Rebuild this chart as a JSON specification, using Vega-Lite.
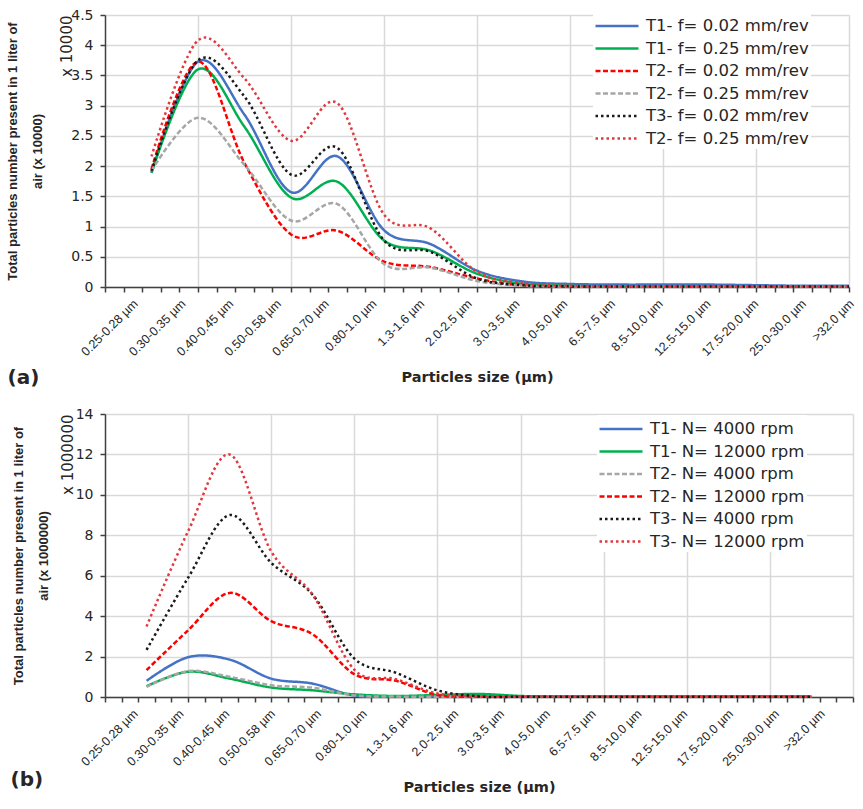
{
  "$schema": "https://vega.github.io/schema/vega-lite/v6.json",
  "background": "white",
  "padding": {"left": 6, "top": 8, "right": 0, "bottom": 0},
  "spacing": 20,
  "resolve": {"scale": {"color": "independent", "strokeDash": "independent"}, "legend": {"color": "independent", "strokeDash": "independent"}},
  "config": {
    "view": {"stroke": null},
    "font": "DejaVu Sans",
    "axis": {"labelColor": "#262626", "titleColor": "#262626", "domainColor": "#404040", "tickColor": "#404040", "gridColor": "#D9D9D9", "titleLimit": 600},
    "legend": {"title": null, "fillColor": "white", "padding": 2, "symbolType": "M-2,0L2,0", "symbolSize": 462, "symbolStrokeWidth": 2.5, "symbolOffset": 10, "labelFontSize": 16.5, "labelOffset": 17, "labelLimit": 300, "labelColor": "#262626", "labelFont": "DejaVu Sans"}
  },
  "datasets": {
    "sizes": [
      {"size": "0.25-0.28 µm"}, {"size": "0.30-0.35 µm"}, {"size": "0.40-0.45 µm"}, {"size": "0.50-0.58 µm"},
      {"size": "0.65-0.70 µm"}, {"size": "0.80-1.0 µm"}, {"size": "1.3-1.6 µm"}, {"size": "2.0-2.5 µm"},
      {"size": "3.0-3.5 µm"}, {"size": "4.0-5.0 µm"}, {"size": "6.5-7.5 µm"}, {"size": "8.5-10.0 µm"},
      {"size": "12.5-15.0 µm"}, {"size": "17.5-20.0 µm"}, {"size": "25.0-30.0 µm"}, {"size": ">32.0 µm"}
    ],
    "a": [
      {"i":1,"s":"T1- f= 0.02 mm/rev","v":1.89},{"i":2,"s":"T1- f= 0.02 mm/rev","v":3.73},{"i":3,"s":"T1- f= 0.02 mm/rev","v":2.85},{"i":4,"s":"T1- f= 0.02 mm/rev","v":1.57},{"i":5,"s":"T1- f= 0.02 mm/rev","v":2.16},{"i":6,"s":"T1- f= 0.02 mm/rev","v":0.94},{"i":7,"s":"T1- f= 0.02 mm/rev","v":0.71},{"i":8,"s":"T1- f= 0.02 mm/rev","v":0.27},{"i":9,"s":"T1- f= 0.02 mm/rev","v":0.09},{"i":10,"s":"T1- f= 0.02 mm/rev","v":0.05},{"i":11,"s":"T1- f= 0.02 mm/rev","v":0.04},{"i":12,"s":"T1- f= 0.02 mm/rev","v":0.04},{"i":13,"s":"T1- f= 0.02 mm/rev","v":0.04},{"i":14,"s":"T1- f= 0.02 mm/rev","v":0.03},{"i":15,"s":"T1- f= 0.02 mm/rev","v":0.02},{"i":16,"s":"T1- f= 0.02 mm/rev","v":0.02},
      {"i":1,"s":"T1- f= 0.25 mm/rev","v":1.89},{"i":2,"s":"T1- f= 0.25 mm/rev","v":3.6},{"i":3,"s":"T1- f= 0.25 mm/rev","v":2.65},{"i":4,"s":"T1- f= 0.25 mm/rev","v":1.48},{"i":5,"s":"T1- f= 0.25 mm/rev","v":1.74},{"i":6,"s":"T1- f= 0.25 mm/rev","v":0.77},{"i":7,"s":"T1- f= 0.25 mm/rev","v":0.6},{"i":8,"s":"T1- f= 0.25 mm/rev","v":0.22},{"i":9,"s":"T1- f= 0.25 mm/rev","v":0.05},{"i":10,"s":"T1- f= 0.25 mm/rev","v":0.02},{"i":11,"s":"T1- f= 0.25 mm/rev","v":0.01},{"i":12,"s":"T1- f= 0.25 mm/rev","v":0.01},{"i":13,"s":"T1- f= 0.25 mm/rev","v":0.01},{"i":14,"s":"T1- f= 0.25 mm/rev","v":0.01},{"i":15,"s":"T1- f= 0.25 mm/rev","v":0.01},{"i":16,"s":"T1- f= 0.25 mm/rev","v":0.01},
      {"i":1,"s":"T2- f= 0.02 mm/rev","v":1.95},{"i":2,"s":"T2- f= 0.02 mm/rev","v":3.73},{"i":3,"s":"T2- f= 0.02 mm/rev","v":2.05},{"i":4,"s":"T2- f= 0.02 mm/rev","v":0.87},{"i":5,"s":"T2- f= 0.02 mm/rev","v":0.93},{"i":6,"s":"T2- f= 0.02 mm/rev","v":0.42},{"i":7,"s":"T2- f= 0.02 mm/rev","v":0.33},{"i":8,"s":"T2- f= 0.02 mm/rev","v":0.14},{"i":9,"s":"T2- f= 0.02 mm/rev","v":0.02},{"i":10,"s":"T2- f= 0.02 mm/rev","v":0.01},{"i":11,"s":"T2- f= 0.02 mm/rev","v":0.01},{"i":12,"s":"T2- f= 0.02 mm/rev","v":0.01},{"i":13,"s":"T2- f= 0.02 mm/rev","v":0.01},{"i":14,"s":"T2- f= 0.02 mm/rev","v":0.01},{"i":15,"s":"T2- f= 0.02 mm/rev","v":0.01},{"i":16,"s":"T2- f= 0.02 mm/rev","v":0.01},
      {"i":1,"s":"T2- f= 0.25 mm/rev","v":1.92},{"i":2,"s":"T2- f= 0.25 mm/rev","v":2.8},{"i":3,"s":"T2- f= 0.25 mm/rev","v":2.02},{"i":4,"s":"T2- f= 0.25 mm/rev","v":1.1},{"i":5,"s":"T2- f= 0.25 mm/rev","v":1.37},{"i":6,"s":"T2- f= 0.25 mm/rev","v":0.38},{"i":7,"s":"T2- f= 0.25 mm/rev","v":0.32},{"i":8,"s":"T2- f= 0.25 mm/rev","v":0.1},{"i":9,"s":"T2- f= 0.25 mm/rev","v":0.02},{"i":10,"s":"T2- f= 0.25 mm/rev","v":0.01},{"i":11,"s":"T2- f= 0.25 mm/rev","v":0.01},{"i":12,"s":"T2- f= 0.25 mm/rev","v":0.01},{"i":13,"s":"T2- f= 0.25 mm/rev","v":0.01},{"i":14,"s":"T2- f= 0.25 mm/rev","v":0.01},{"i":15,"s":"T2- f= 0.25 mm/rev","v":0.01},{"i":16,"s":"T2- f= 0.25 mm/rev","v":0.01},
      {"i":1,"s":"T3- f= 0.02 mm/rev","v":1.92},{"i":2,"s":"T3- f= 0.02 mm/rev","v":3.75},{"i":3,"s":"T3- f= 0.02 mm/rev","v":3.15},{"i":4,"s":"T3- f= 0.02 mm/rev","v":1.86},{"i":5,"s":"T3- f= 0.02 mm/rev","v":2.3},{"i":6,"s":"T3- f= 0.02 mm/rev","v":0.77},{"i":7,"s":"T3- f= 0.02 mm/rev","v":0.58},{"i":8,"s":"T3- f= 0.02 mm/rev","v":0.14},{"i":9,"s":"T3- f= 0.02 mm/rev","v":0.03},{"i":10,"s":"T3- f= 0.02 mm/rev","v":0.01},{"i":11,"s":"T3- f= 0.02 mm/rev","v":0.01},{"i":12,"s":"T3- f= 0.02 mm/rev","v":0.01},{"i":13,"s":"T3- f= 0.02 mm/rev","v":0.01},{"i":14,"s":"T3- f= 0.02 mm/rev","v":0.01},{"i":15,"s":"T3- f= 0.02 mm/rev","v":0.01},{"i":16,"s":"T3- f= 0.02 mm/rev","v":0.01},
      {"i":1,"s":"T2- f= 0.25 mm/rev ","v":2.16},{"i":2,"s":"T2- f= 0.25 mm/rev ","v":4.08},{"i":3,"s":"T2- f= 0.25 mm/rev ","v":3.45},{"i":4,"s":"T2- f= 0.25 mm/rev ","v":2.42},{"i":5,"s":"T2- f= 0.25 mm/rev ","v":3.04},{"i":6,"s":"T2- f= 0.25 mm/rev ","v":1.2},{"i":7,"s":"T2- f= 0.25 mm/rev ","v":0.97},{"i":8,"s":"T2- f= 0.25 mm/rev ","v":0.25},{"i":9,"s":"T2- f= 0.25 mm/rev ","v":0.06},{"i":10,"s":"T2- f= 0.25 mm/rev ","v":0.02},{"i":11,"s":"T2- f= 0.25 mm/rev ","v":0.01},{"i":12,"s":"T2- f= 0.25 mm/rev ","v":0.01},{"i":13,"s":"T2- f= 0.25 mm/rev ","v":0.01},{"i":14,"s":"T2- f= 0.25 mm/rev ","v":0.01},{"i":15,"s":"T2- f= 0.25 mm/rev ","v":0.01},{"i":16,"s":"T2- f= 0.25 mm/rev ","v":0.01}
    ],
    "b": [
      {"i":1,"s":"T1- N= 4000 rpm","v":0.8},{"i":2,"s":"T1- N= 4000 rpm","v":1.97},{"i":3,"s":"T1- N= 4000 rpm","v":1.85},{"i":4,"s":"T1- N= 4000 rpm","v":0.91},{"i":5,"s":"T1- N= 4000 rpm","v":0.66},{"i":6,"s":"T1- N= 4000 rpm","v":0.07},{"i":7,"s":"T1- N= 4000 rpm","v":0.03},{"i":8,"s":"T1- N= 4000 rpm","v":0.02},{"i":9,"s":"T1- N= 4000 rpm","v":0.02},{"i":10,"s":"T1- N= 4000 rpm","v":0.01},{"i":11,"s":"T1- N= 4000 rpm","v":0.01},{"i":12,"s":"T1- N= 4000 rpm","v":0.01},{"i":13,"s":"T1- N= 4000 rpm","v":0.01},{"i":14,"s":"T1- N= 4000 rpm","v":0.01},{"i":15,"s":"T1- N= 4000 rpm","v":0.01},{"i":16,"s":"T1- N= 4000 rpm","v":0.01},{"i":17,"s":"T1- N= 4000 rpm","v":0.01},
      {"i":1,"s":"T1- N= 12000 rpm","v":0.53},{"i":2,"s":"T1- N= 12000 rpm","v":1.25},{"i":3,"s":"T1- N= 12000 rpm","v":0.91},{"i":4,"s":"T1- N= 12000 rpm","v":0.47},{"i":5,"s":"T1- N= 12000 rpm","v":0.33},{"i":6,"s":"T1- N= 12000 rpm","v":0.13},{"i":7,"s":"T1- N= 12000 rpm","v":0.05},{"i":8,"s":"T1- N= 12000 rpm","v":0.1},{"i":9,"s":"T1- N= 12000 rpm","v":0.15},{"i":10,"s":"T1- N= 12000 rpm","v":0.05},{"i":11,"s":"T1- N= 12000 rpm","v":0.01},{"i":12,"s":"T1- N= 12000 rpm","v":0.01},{"i":13,"s":"T1- N= 12000 rpm","v":0.01},{"i":14,"s":"T1- N= 12000 rpm","v":0.01},{"i":15,"s":"T1- N= 12000 rpm","v":0.01},{"i":16,"s":"T1- N= 12000 rpm","v":0.01},{"i":17,"s":"T1- N= 12000 rpm","v":0.01},
      {"i":1,"s":"T2- N= 4000 rpm","v":0.5},{"i":2,"s":"T2- N= 4000 rpm","v":1.28},{"i":3,"s":"T2- N= 4000 rpm","v":1.0},{"i":4,"s":"T2- N= 4000 rpm","v":0.58},{"i":5,"s":"T2- N= 4000 rpm","v":0.46},{"i":6,"s":"T2- N= 4000 rpm","v":0.08},{"i":7,"s":"T2- N= 4000 rpm","v":0.02},{"i":8,"s":"T2- N= 4000 rpm","v":0.01},{"i":9,"s":"T2- N= 4000 rpm","v":0.01},{"i":10,"s":"T2- N= 4000 rpm","v":0.01},{"i":11,"s":"T2- N= 4000 rpm","v":0.01},{"i":12,"s":"T2- N= 4000 rpm","v":0.01},{"i":13,"s":"T2- N= 4000 rpm","v":0.01},{"i":14,"s":"T2- N= 4000 rpm","v":0.01},{"i":15,"s":"T2- N= 4000 rpm","v":0.01},{"i":16,"s":"T2- N= 4000 rpm","v":0.01},{"i":17,"s":"T2- N= 4000 rpm","v":0.01},
      {"i":1,"s":"T2- N= 12000 rpm","v":1.33},{"i":2,"s":"T2- N= 12000 rpm","v":3.3},{"i":3,"s":"T2- N= 12000 rpm","v":5.15},{"i":4,"s":"T2- N= 12000 rpm","v":3.75},{"i":5,"s":"T2- N= 12000 rpm","v":3.1},{"i":6,"s":"T2- N= 12000 rpm","v":1.13},{"i":7,"s":"T2- N= 12000 rpm","v":0.8},{"i":8,"s":"T2- N= 12000 rpm","v":0.1},{"i":9,"s":"T2- N= 12000 rpm","v":0.02},{"i":10,"s":"T2- N= 12000 rpm","v":0.01},{"i":11,"s":"T2- N= 12000 rpm","v":0.01},{"i":12,"s":"T2- N= 12000 rpm","v":0.01},{"i":13,"s":"T2- N= 12000 rpm","v":0.01},{"i":14,"s":"T2- N= 12000 rpm","v":0.01},{"i":15,"s":"T2- N= 12000 rpm","v":0.01},{"i":16,"s":"T2- N= 12000 rpm","v":0.01},{"i":17,"s":"T2- N= 12000 rpm","v":0.01},
      {"i":1,"s":"T3- N= 4000 rpm","v":2.33},{"i":2,"s":"T3- N= 4000 rpm","v":5.9},{"i":3,"s":"T3- N= 4000 rpm","v":9.0},{"i":4,"s":"T3- N= 4000 rpm","v":6.64},{"i":5,"s":"T3- N= 4000 rpm","v":5.05},{"i":6,"s":"T3- N= 4000 rpm","v":1.9},{"i":7,"s":"T3- N= 4000 rpm","v":1.2},{"i":8,"s":"T3- N= 4000 rpm","v":0.33},{"i":9,"s":"T3- N= 4000 rpm","v":0.03},{"i":10,"s":"T3- N= 4000 rpm","v":0.01},{"i":11,"s":"T3- N= 4000 rpm","v":0.01},{"i":12,"s":"T3- N= 4000 rpm","v":0.01},{"i":13,"s":"T3- N= 4000 rpm","v":0.01},{"i":14,"s":"T3- N= 4000 rpm","v":0.01},{"i":15,"s":"T3- N= 4000 rpm","v":0.01},{"i":16,"s":"T3- N= 4000 rpm","v":0.01},{"i":17,"s":"T3- N= 4000 rpm","v":0.01},
      {"i":1,"s":"T3- N= 12000 rpm","v":3.49},{"i":2,"s":"T3- N= 12000 rpm","v":8.2},{"i":3,"s":"T3- N= 12000 rpm","v":12.0},{"i":4,"s":"T3- N= 12000 rpm","v":7.2},{"i":5,"s":"T3- N= 12000 rpm","v":5.05},{"i":6,"s":"T3- N= 12000 rpm","v":1.35},{"i":7,"s":"T3- N= 12000 rpm","v":0.88},{"i":8,"s":"T3- N= 12000 rpm","v":0.17},{"i":9,"s":"T3- N= 12000 rpm","v":0.03},{"i":10,"s":"T3- N= 12000 rpm","v":0.01},{"i":11,"s":"T3- N= 12000 rpm","v":0.01},{"i":12,"s":"T3- N= 12000 rpm","v":0.01},{"i":13,"s":"T3- N= 12000 rpm","v":0.01},{"i":14,"s":"T3- N= 12000 rpm","v":0.01},{"i":15,"s":"T3- N= 12000 rpm","v":0.01},{"i":16,"s":"T3- N= 12000 rpm","v":0.01},{"i":17,"s":"T3- N= 12000 rpm","v":0.01}
    ]
  },
  "vconcat": [
    {
      "width": 744,
      "height": 272,
      "data": {"name": "a"},
      "resolve": {"scale": {"x": "independent"}, "axis": {"x": "independent", "y": "independent"}},
      "layer": [
        {
          "mark": {"type": "line", "interpolate": "cardinal", "strokeWidth": 2.5},
          "encoding": {
            "x": {"field": "i", "type": "quantitative", "scale": {"domain": [0, 16], "nice": false, "zero": false},
                  "axis": {"orient": "bottom", "values": [2, 4, 6, 8, 10, 12, 14, 16], "grid": true, "gridWidth": 1.5, "ticks": false, "labels": false, "domain": false, "title": null}},
            "y": {"field": "v", "type": "quantitative", "scale": {"domain": [0, 4.5], "nice": false},
                  "axis": {"orient": "left", "values": [0, 0.5, 1, 1.5, 2, 2.5, 3, 3.5, 4, 4.5], "format": "~g", "grid": true, "gridWidth": 1.5,
                           "labelFontSize": 14, "labelPadding": 7, "tickSize": 5, "tickWidth": 1.5, "domainWidth": 1.5,
                           "title": ["Total particles number present in 1 liter of", "air (x 10000)"],
                           "titleFont": "Liberation Sans", "titleFontSize": 13, "titleFontWeight": "bold", "titleLineHeight": 25, "titlePadding": 26}},
            "color": {"field": "s", "type": "nominal",
                      "scale": {"domain": ["T1- f= 0.02 mm/rev", "T1- f= 0.25 mm/rev", "T2- f= 0.02 mm/rev", "T2- f= 0.25 mm/rev", "T3- f= 0.02 mm/rev", "T2- f= 0.25 mm/rev "],
                                "range": ["#4472C4", "#00B050", "#FF0000", "#A6A6A6", "#1A1A1A", "#E0383D"]},
                      "legend": {"orient": "none", "legendX": 488, "legendY": -3, "rowPadding": 1.5}},
            "strokeDash": {"field": "s", "type": "nominal",
                      "scale": {"domain": ["T1- f= 0.02 mm/rev", "T1- f= 0.25 mm/rev", "T2- f= 0.02 mm/rev", "T2- f= 0.25 mm/rev", "T3- f= 0.02 mm/rev", "T2- f= 0.25 mm/rev "],
                                "range": [[1, 0], [1, 0], [5, 2.5], [5, 2.5], [2.5, 3], [2.5, 3]]},
                      "legend": {"orient": "none", "legendX": 488, "legendY": -3, "rowPadding": 1.5}}
          }
        },
        {
          "mark": {"type": "point", "opacity": 0},
          "encoding": {
            "x": {"field": "i", "type": "quantitative", "scale": {"domain": [0, 16], "nice": false, "zero": false},
                  "axis": {"orient": "bottom", "values": [0,0.4,0.8,1.2,1.6,2,2.4,2.8,3.2,3.6,4,4.4,4.8,5.2,5.6,6,6.4,6.8,7.2,7.6,8,8.4,8.8,9.2,9.6,10,10.4,10.8,11.2,11.6,12,12.4,12.8,13.2,13.6,14,14.4,14.8,15.2,15.6,16],
                           "grid": false, "ticks": true, "tickSize": 5, "tickWidth": 1.5, "labels": false, "domain": true, "domainWidth": 1.5,
                           "title": "(a)", "titleX": -98, "titleY": 90, "titleAlign": "left", "titleBaseline": "middle", "titleFontSize": 20, "titleFontWeight": "bold"}},
            "y": {"field": "v", "type": "quantitative",
                  "axis": {"orient": "left", "labels": false, "ticks": false, "domain": false, "grid": false,
                           "title": "x 10000", "titleAnchor": "end", "titleFontSize": 15, "titleFontWeight": "normal", "titlePadding": 31}}
          }
        },
        {
          "data": {"name": "sizes"},
          "mark": {"type": "point", "opacity": 0},
          "encoding": {
            "x": {"field": "size", "type": "nominal", "sort": null, "scale": {"type": "point", "padding": 0.293, "align": 0.93},
                  "axis": {"orient": "bottom", "labelAngle": -45, "labelFont": "Liberation Sans", "labelFontSize": 12.5, "labelPadding": 10, "ticks": false, "domain": false, "grid": false,
                           "title": "Particles size (µm)", "titleFontSize": 14.5, "titleFontWeight": "bold", "titlePadding": 12}}
          }
        }
      ]
    },
    {
      "width": 748,
      "height": 283,
      "data": {"name": "b"},
      "resolve": {"scale": {"x": "independent"}, "axis": {"x": "independent", "y": "independent"}},
      "layer": [
        {
          "mark": {"type": "line", "interpolate": "cardinal", "strokeWidth": 2.5},
          "encoding": {
            "x": {"field": "i", "type": "quantitative", "scale": {"domain": [0, 18], "nice": false, "zero": false},
                  "axis": {"orient": "bottom", "values": [2, 4, 6, 8, 10, 12, 14, 16, 18], "grid": true, "gridWidth": 1.5, "ticks": false, "labels": false, "domain": false, "title": null}},
            "y": {"field": "v", "type": "quantitative", "scale": {"domain": [0, 14], "nice": false},
                  "axis": {"orient": "left", "values": [0, 2, 4, 6, 8, 10, 12, 14], "format": "~g", "grid": true, "gridWidth": 1.5,
                           "labelFontSize": 14, "labelPadding": 7, "tickSize": 5, "tickWidth": 1.5, "domainWidth": 1.5,
                           "title": ["Total particles number present in 1 liter of", "air (x 1000000)"],
                           "titleFont": "Liberation Sans", "titleFontSize": 13, "titleFontWeight": "bold", "titleLineHeight": 25, "titlePadding": 25}},
            "color": {"field": "s", "type": "nominal",
                      "scale": {"domain": ["T1- N= 4000 rpm", "T1- N= 12000 rpm", "T2- N= 4000 rpm", "T2- N= 12000 rpm", "T3- N= 4000 rpm", "T3- N= 12000 rpm"],
                                "range": ["#4472C4", "#00B050", "#A6A6A6", "#FF0000", "#1A1A1A", "#E0383D"]},
                      "legend": {"orient": "none", "legendX": 492, "legendY": 1, "rowPadding": 1.5}},
            "strokeDash": {"field": "s", "type": "nominal",
                      "scale": {"domain": ["T1- N= 4000 rpm", "T1- N= 12000 rpm", "T2- N= 4000 rpm", "T2- N= 12000 rpm", "T3- N= 4000 rpm", "T3- N= 12000 rpm"],
                                "range": [[1, 0], [1, 0], [5, 2.5], [5, 2.5], [2.5, 3], [2.5, 3]]},
                      "legend": {"orient": "none", "legendX": 492, "legendY": 1, "rowPadding": 1.5}}
          }
        },
        {
          "mark": {"type": "point", "opacity": 0},
          "encoding": {
            "x": {"field": "i", "type": "quantitative", "scale": {"domain": [0, 18], "nice": false, "zero": false},
                  "axis": {"orient": "bottom", "values": [0,0.4,0.8,1.2,1.6,2,2.4,2.8,3.2,3.6,4,4.4,4.8,5.2,5.6,6,6.4,6.8,7.2,7.6,8,8.4,8.8,9.2,9.6,10,10.4,10.8,11.2,11.6,12,12.4,12.8,13.2,13.6,14,14.4,14.8,15.2,15.6,16,16.4,16.8,17.2,17.6,18],
                           "grid": false, "ticks": true, "tickSize": 5, "tickWidth": 1.5, "labels": false, "domain": true, "domainWidth": 1.5,
                           "title": "(b)", "titleX": -95, "titleY": 82, "titleAlign": "left", "titleBaseline": "middle", "titleFontSize": 20, "titleFontWeight": "bold"}},
            "y": {"field": "v", "type": "quantitative",
                  "axis": {"orient": "left", "labels": false, "ticks": false, "domain": false, "grid": false,
                           "title": "x 1000000", "titleAnchor": "end", "titleFontSize": 15, "titleFontWeight": "normal", "titlePadding": 30}}
          }
        },
        {
          "data": {"name": "sizes"},
          "mark": {"type": "point", "opacity": 0},
          "encoding": {
            "x": {"field": "size", "type": "nominal", "sort": null, "scale": {"type": "point", "padding": 0.666, "align": 0.426},
                  "axis": {"orient": "bottom", "labelAngle": -45, "labelFont": "Liberation Sans", "labelFontSize": 12.5, "labelPadding": 10, "ticks": false, "domain": false, "grid": false,
                           "title": "Particles size (µm)", "titleFontSize": 14.5, "titleFontWeight": "bold", "titlePadding": 12}}
          }
        }
      ]
    }
  ]
}
